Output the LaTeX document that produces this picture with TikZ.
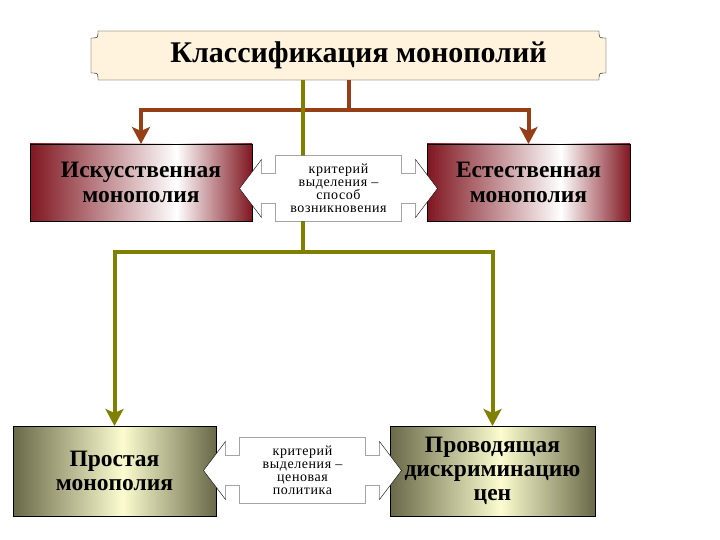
\documentclass[tikz,border=0pt]{standalone}
\usepackage{fontspec}
\setmainfont{Liberation Serif}
\newfontfamily\critfont[LetterSpace=4]{Liberation Serif}
\usetikzlibrary{arrows.meta}

\definecolor{brownLine}{RGB}{150,62,22}
\definecolor{oliveLine}{RGB}{128,128,0}
\definecolor{plaqueColor}{RGB}{255,243,222}
\definecolor{redEdge}{RGB}{128,22,32}
\definecolor{greyEdge}{RGB}{105,105,72}
\definecolor{paleYellow}{RGB}{252,252,208}

\pgfdeclarehorizontalshading{redShade}{100bp}{color(0bp)=(redEdge); color(25bp)=(redEdge); color(58bp)=(white); color(75bp)=(redEdge); color(100bp)=(redEdge)}
\pgfdeclarehorizontalshading{greyShade}{100bp}{color(0bp)=(greyEdge); color(25bp)=(greyEdge); color(52bp)=(paleYellow); color(75bp)=(greyEdge); color(100bp)=(greyEdge)}

% outline of a criterion double arrow round a centre coordinate
\newcommand{\critArrow}[1]{%
  \draw[fill=white, shift={(#1)}] (-63,-33) -- (63,-33) -- (63,-15) -- (77,-15) -- (77,-29) -- (99,0)
    -- (77,29) -- (77,15) -- (63,15) -- (63,33) -- (-63,33) -- (-63,15) -- (-77,15) -- (-77,29)
    -- (-99,0) -- (-77,-29) -- (-77,-15) -- (-63,-15) -- cycle;}

\begin{document}
\begin{tikzpicture}[x=1pt,y=-1pt,
  redbox/.style={draw=black, shade, shading=redShade, minimum height=77, inner sep=0, outer sep=0,
    align=center, font=\fontsize{23.5}{25}\selectfont\bfseries},
  greybox/.style={draw=black, shade, shading=greyShade, minimum height=90, inner sep=0, outer sep=0,
    align=center, font=\fontsize{23.5}{24}\selectfont\bfseries},
  crittext/.style={align=center, inner sep=0, font=\critfont\fontsize{14}{13}\selectfont},
  brownArrow/.style={draw=brownLine, line width=4pt, -{Stealth[width=18pt,length=17pt,inset=4pt]}},
  oliveArrow/.style={draw=oliveLine, line width=4pt, -{Stealth[width=18pt,length=17pt,inset=4pt]}}]
  \useasboundingbox (0,0) rectangle (720,540);
  % Title
  \coordinate (titlePos) at (348.5,55.5);
  \draw[fill=plaqueColor, shift={(titlePos)}] (-250.5,-24.5) -- (250.5,-24.5) .. controls (250.5,-17.5) .. (257.5,-17.5)
    -- (257.5,17.5) .. controls (250.5,17.5) .. (250.5,24.5) -- (-250.5,24.5) .. controls (-250.5,17.5) .. (-257.5,17.5)
    -- (-257.5,-17.5) .. controls (-250.5,-17.5) .. (-250.5,-24.5) -- cycle;
  \node[minimum width=515, minimum height=49, inner sep=0, outer sep=0, font=\fontsize{30}{32}\selectfont\bfseries]
    (title) at (titlePos) {\hspace*{20pt}Классификация монополий};
  % Boxes
  \node[redbox, minimum width=222] (artMono) at (141,182.5) {Искусственная\\монополия};
  \node[redbox, minimum width=203] (natMono) at (528.5,182.5) {Естественная\\монополия};
  \node[greybox, minimum width=203] (simpleMono) at (114.5,471) {Простая\\монополия};
  \node[greybox, minimum width=205] (discMono) at (492.5,471) {Проводящая\\дискриминацию\\цен};
  % Connectors
  \draw[brownArrow] (title.south) -- ++(0,30) -| (artMono.north);
  \draw[brownArrow] (title.south) -- ++(0,30) -| (natMono.north);
  \coordinate (oliveFork) at (303,252);
  \draw[oliveArrow] (oliveFork |- title.south) -- (oliveFork) -| (simpleMono.north);
  \draw[oliveArrow] (oliveFork |- title.south) -- (oliveFork) -| (discMono.north);
  % Criteria
  \coordinate (critTop) at (338.5,188.5);
  \critArrow{critTop}
  \node[crittext] (critTopText) at (critTop) {критерий\\выделения –\\способ\\возникновения};
  \coordinate (critBottom) at (302.5,470.5);
  \critArrow{critBottom}
  \node[crittext] (critBottomText) at (critBottom) {критерий\\выделения –\\ценовая\\политика};
\end{tikzpicture}
\end{document}
